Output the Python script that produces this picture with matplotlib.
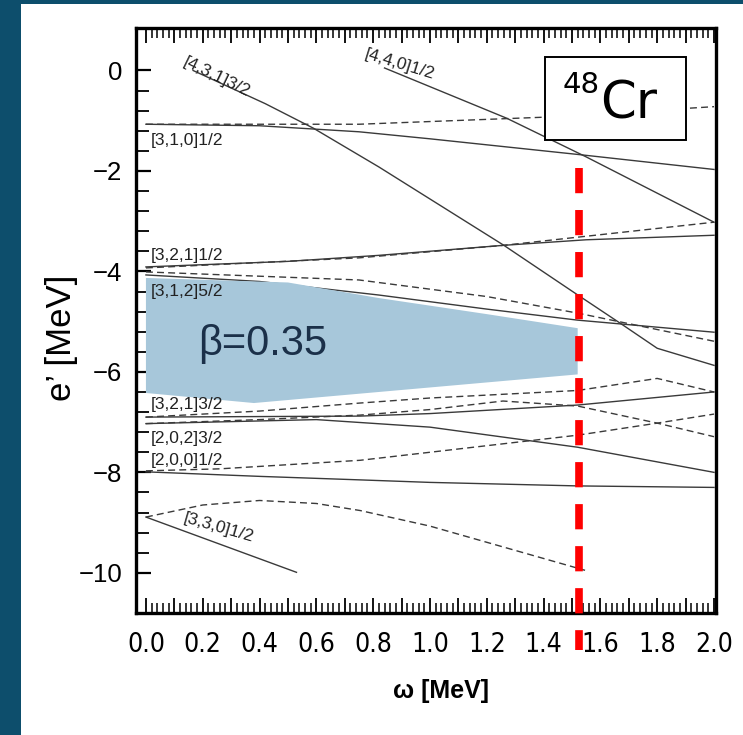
import numpy as np
import matplotlib
matplotlib.use('Agg')
import matplotlib.pyplot as plt
from matplotlib import font_manager
from matplotlib.patches import Rectangle, Polygon
from matplotlib.ticker import FixedLocator

# --- data: routhians e'(omega), solid = alpha=+1/2, dashed = alpha=-1/2 ---
w_431 = [0.166, 0.42, 0.59, 0.82, 1.26, 1.51, 1.68, 1.80, 2.0]
e_431 = [0.0, -0.66, -1.15, -1.92, -3.48, -4.43, -5.07, -5.53, -5.87]

w_440 = [0.84, 1.27, 1.55, 2.0]
e_440 = [0.05, -0.95, -1.72, -3.02]

w_310_s = [0.0, 0.4, 0.75, 1.0, 1.535, 2.0]
e_310_s = [-1.07, -1.10, -1.22, -1.36, -1.68, -1.97]
w_310_d = [0.0, 0.75, 1.4, 2.0]
e_310_d = [-1.07, -1.07, -0.93, -0.72]

w_321a_s = [0.0, 0.5, 0.82, 1.26, 1.55, 2.0]
e_321a_s = [-3.91, -3.80, -3.68, -3.48, -3.37, -3.28]
w_321a_d = [0.0, 0.75, 1.26, 2.0]
e_321a_d = [-3.93, -3.73, -3.48, -3.02]

w_312_s = [0.0, 0.4, 0.82, 1.2, 1.52, 2.0]
e_312_s = [-4.07, -4.20, -4.47, -4.75, -4.97, -5.21]
w_312_d = [0.0, 0.75, 1.2, 1.52, 2.0]
e_312_d = [-4.01, -4.17, -4.50, -4.83, -5.39]

w_321b_s = [0.0, 0.754, 1.0, 1.52, 2.0]
e_321b_s = [-6.90, -6.88, -6.83, -6.66, -6.40]
w_321b_d = [0.0, 0.4, 0.754, 1.0, 1.52, 1.80, 2.0]
e_321b_d = [-6.90, -6.78, -6.62, -6.52, -6.37, -6.13, -6.40]

w_202_s = [0.0, 0.6, 1.0, 1.52, 2.0]
e_202_s = [-7.03, -6.95, -7.10, -7.50, -8.00]
w_202_d = [0.0, 0.4, 0.754, 1.0, 1.257, 1.52, 1.80, 2.0]
e_202_d = [-7.03, -6.95, -6.86, -6.75, -6.58, -6.68, -7.02, -7.29]

w_200_s = [0.0, 0.4, 0.754, 1.0, 1.52, 2.0]
e_200_s = [-7.99, -8.08, -8.15, -8.20, -8.27, -8.30]
w_200_d = [0.0, 0.26, 0.754, 1.0, 1.52, 1.80, 2.0]
e_200_d = [-7.97, -7.93, -7.76, -7.60, -7.26, -7.02, -6.84]

w_330_s = [0.0, 0.53]
e_330_s = [-8.89, -9.99]
w_330_d = [0.0, 0.2, 0.4, 0.6, 0.754, 1.0, 1.546]
e_330_d = [-8.89, -8.65, -8.56, -8.62, -8.76, -9.07, -9.95]

# shaded deformation region
shade_w = [0.0, 0.5, 0.82, 1.2, 1.52, 1.52, 0.38, 0.0]
shade_e = [-4.13, -4.22, -4.53, -4.85, -5.13, -6.05, -6.62, -6.42]

# red marker at omega ~ 1.5 MeV
red_w = 1.525
red_e = [-1.94, -11.54]

# level labels: text, omega, e', rotation
level_labels = ['[3,1,0]1/2', '[3,2,1]1/2', '[3,1,2]5/2',
                '[3,2,1]3/2', '[2,0,2]3/2', '[2,0,0]1/2']
level_label_e = [-1.40, -3.68, -4.39, -6.65, -7.33, -7.77]
sloped_labels = ['[4,3,1]3/2', '[4,4,0]1/2', '[3,3,0]1/2']
sloped_label_w = [0.25, 0.894, 0.257]
sloped_label_e = [-0.13, 0.13, -9.11]
sloped_label_rot = [-26, -17, -16]

x_tick_labels = ['0.0', '0.2', '0.4', '0.6', '0.8', '1.0',
                 '1.2', '1.4', '1.6', '1.8', '2.0']

LINE_COLOR = '#3a3a3a'
SHADE_COLOR = '#a7c7da'
BORDER_COLOR = '#0d4e6c'

plt.rcParams['font.family'] = ['Liberation Sans', 'DejaVu Sans']


def _narrow_font():
    """Condensed font for the x tick labels, if one is installed"""
    for fam in ['Liberation Sans Narrow', 'Arial Narrow']:
        try:
            font_manager.findfont(font_manager.FontProperties(family=fam),
                                  fallback_to_default=False)
            return dict(family=[fam])
        except Exception:
            pass
    return dict(family=['DejaVu Sans'], fontstretch='condensed')


fig = plt.figure(figsize=(7.43, 7.35), dpi=100)
fig.patch.set_facecolor('white')

# dark frame strips of the slide
fig.patches.append(Rectangle((0, 0), 21 / 743, 1, transform=fig.transFigure,
                             facecolor=BORDER_COLOR, edgecolor='none'))
fig.patches.append(Rectangle((0, 1 - 4 / 735), 1, 4 / 735, transform=fig.transFigure,
                             facecolor=BORDER_COLOR, edgecolor='none'))

ax = fig.add_axes([136 / 743, 1 - 613 / 735, 580 / 743, 585 / 735])
ax.set_xlim(-0.035, 2.007)
ax.set_ylim(-10.80, 0.846)

solid = dict(color=LINE_COLOR, lw=1.0, zorder=2)
dashed = dict(color=LINE_COLOR, lw=1.0, ls=(0, (5, 3)), zorder=2)

ax.plot(w_431, e_431, **solid)
ax.plot(w_440, e_440, **solid)
for w, e in [(w_310_s, e_310_s), (w_321a_s, e_321a_s), (w_312_s, e_312_s),
             (w_321b_s, e_321b_s), (w_202_s, e_202_s), (w_200_s, e_200_s),
             (w_330_s, e_330_s)]:
    ax.plot(w, e, **solid)
for w, e in [(w_310_d, e_310_d), (w_321a_d, e_321a_d), (w_312_d, e_312_d),
             (w_321b_d, e_321b_d), (w_202_d, e_202_d), (w_200_d, e_200_d),
             (w_330_d, e_330_d)]:
    ax.plot(w, e, **dashed)

# blue deformation band on top of the levels
ax.add_patch(Polygon(np.column_stack([shade_w, shade_e]), closed=True,
                     facecolor=SHADE_COLOR, edgecolor='none', zorder=3))
ax.text(0.183, -5.67, 'β=0.35', fontsize=30, color='#1b3049',
        va='baseline', ha='left', zorder=4)

# level labels
for lab, e in zip(level_labels, level_label_e):
    ax.text(0.017, e, lab, fontsize=12.5, color='#222222', ha='left', va='center', zorder=4)
for lab, w, e, r in zip(sloped_labels, sloped_label_w, sloped_label_e, sloped_label_rot):
    ax.text(w, e, lab, fontsize=12.5, color='#222222', ha='center', va='center',
            rotation=r, rotation_mode='anchor', zorder=4)

# 48Cr box
ax.add_patch(Rectangle((0.705, 0.809), 0.243, 0.141, transform=ax.transAxes,
                       facecolor='white', edgecolor='black', lw=1.4, zorder=5))
ax.text(0.736, 0.889, '48', transform=ax.transAxes, fontsize=21,
        family=['DejaVu Sans'], ha='left', va='baseline', zorder=6)
ax.text(0.800, 0.846, 'Cr', transform=ax.transAxes, fontsize=37,
        family=['DejaVu Sans'], ha='left', va='baseline', zorder=6)

# red dashed line at the chosen frequency
ax.plot([red_w, red_w], red_e, color='#ff0000', lw=5.5, ls=(0, (3.3, 2.2)),
        solid_capstyle='butt', dash_capstyle='butt', clip_on=False, zorder=7)

# ticks
ax.set_xticks(np.round(np.arange(0, 2.001, 0.1), 2))
ax.set_xticklabels([x_tick_labels[i // 2] if i % 2 == 0 else '' for i in range(21)],
                   fontsize=19, **_narrow_font())
ax.xaxis.set_minor_locator(FixedLocator(np.arange(0, 2.001, 0.02)))
ax.tick_params(axis='x', which='both', direction='in', top=True, bottom=True, pad=14)
ax.tick_params(axis='x', which='major', length=11, width=1.3)
ax.tick_params(axis='x', which='minor', length=7, width=1.1)

ax.set_yticks([0, -2, -4, -6, -8, -10])
ax.yaxis.set_minor_locator(FixedLocator(np.arange(-10, 0.01, 0.4)))
ax.tick_params(axis='y', which='both', direction='in', left=True, right=False, pad=10,
               labelsize=18.5)
ax.tick_params(axis='y', which='major', length=11, width=1.6)
ax.tick_params(axis='y', which='minor', length=9, width=1.3)

for sp in ax.spines.values():
    sp.set_linewidth(2.4)

ax.set_ylabel('e’ [MeV]', fontsize=25)
ax.yaxis.set_label_coords(-0.10, 0.47)
ax.set_xlabel('ω [MeV]', fontsize=18, fontweight='bold')
ax.xaxis.set_label_coords(0.526, -0.112)

fig.savefig('out.png', dpi=100)
